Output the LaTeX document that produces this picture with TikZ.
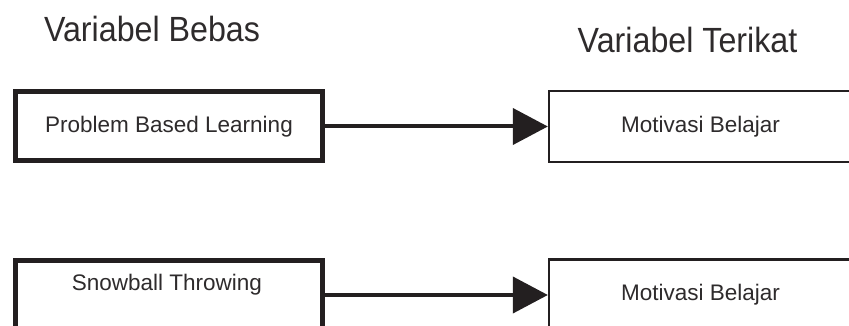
\documentclass[tikz,border=0pt]{standalone}
\usepackage{fontspec}
\setmainfont{Liberation Sans}
\newfontfamily\headfont[FakeStretch=0.92]{Liberation Sans}
\usetikzlibrary{arrows.meta}
\definecolor{ink}{HTML}{231F20}
\definecolor{txt}{HTML}{2E2B2C}
\tikzset{
  title/.style={inner sep=0pt, anchor=base, text=txt, font=\headfont\fontsize{35}{40}\selectfont},
  srcbox/.style={draw=ink, line width=5pt, fill=white, minimum width=307pt, minimum height=69pt, inner sep=0pt, text=txt, font=\fontsize{22.5}{27}\selectfont},
  dstbox/.style={draw=ink, line width=2.5pt, fill=white, minimum width=303pt, minimum height=71pt, inner sep=0pt, text=txt, font=\fontsize{22.5}{27}\selectfont},
  label/.style={inner sep=0pt, text=txt, font=\fontsize{22.5}{27}\selectfont},
  link/.style={draw=ink, line width=4pt, -{Triangle[length=35pt,width=36pt]}},
}
\begin{document}
\begin{tikzpicture}[x=1pt, y=-1pt]
  \useasboundingbox (0,0) rectangle (849,326);

  % column headings
  \node[title] (hbebas) at (152,42) {Variabel Bebas};
  \node[title] (hterikat) at (687.5,53) {Variabel Terikat};

  % first row
  \node[srcbox] (pbl) at (169,126.5) {Problem Based Learning};
  \node[dstbox] (mot1) at (700.6,126.5) {Motivasi Belajar};
  \draw[link] (pbl.east) -- (mot1.west);

  % second row
  \node[srcbox] (snow) at (169,295) {};
  \node[label] (snowtxt) at (167,285) {Snowball Throwing};
  \node[dstbox] (mot2) at (700.6,295) {Motivasi Belajar};
  \draw[link] (snow.east) -- (mot2.west);
\end{tikzpicture}
\end{document}
